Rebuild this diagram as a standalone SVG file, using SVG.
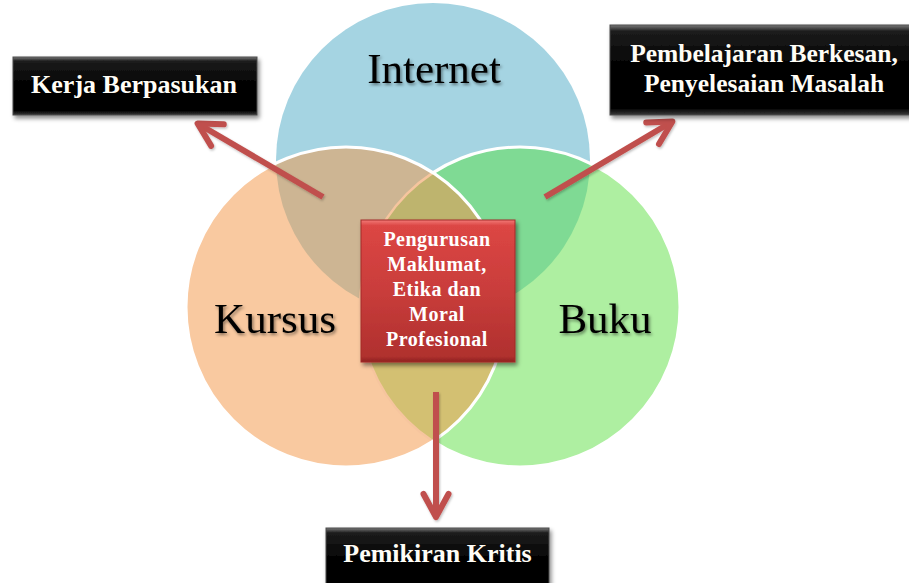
<svg xmlns="http://www.w3.org/2000/svg" width="909" height="583" viewBox="0 0 909 583">
  <defs>
    <style>
      .big { font-family: "Liberation Serif", "Times New Roman", serif; font-size: 43px; fill: #000; text-anchor: middle; }
      .lbl { font-family: "Liberation Serif", "Times New Roman", serif; font-weight: bold; font-size: 26px; fill: #FFFDF6; text-anchor: middle; }
      .ctr { font-family: "Liberation Serif", "Times New Roman", serif; font-weight: bold; font-size: 20px; fill: #FFFFFF; text-anchor: middle; letter-spacing: 0.5px; }
      .arrow { fill: none; stroke: #C0504D; stroke-width: 6; marker-end: url(#head); }
      .ring { fill: none; stroke: #FFFFFF; stroke-width: 3; }
    </style>
    <marker id="head" markerUnits="userSpaceOnUse" viewBox="-32 -20 40 40" refX="0" refY="0" markerWidth="40" markerHeight="40" orient="auto">
      <path d="M-23,-12.5 L0,0 L-23,12.5" fill="none" stroke="#C0504D" stroke-width="6" stroke-linejoin="round" stroke-linecap="round"/>
    </marker>
    <clipPath id="cInternet"><circle cx="433" cy="160" r="157"/></clipPath>
    <clipPath id="cBuku"><circle cx="520" cy="307" r="160"/></clipPath>
    <clipPath id="cKursus"><circle cx="346" cy="307" r="160"/></clipPath>
    <linearGradient id="gRed" x1="0" y1="0" x2="0" y2="1">
      <stop offset="0" stop-color="#F27A78"/>
      <stop offset="0.04" stop-color="#DC4644"/>
      <stop offset="0.5" stop-color="#C93D3B"/>
      <stop offset="0.96" stop-color="#B0302E"/>
      <stop offset="1" stop-color="#8E2220"/>
    </linearGradient>
    <linearGradient id="gBlack" x1="0" y1="0" x2="0" y2="1">
      <stop offset="0" stop-color="#7A7A7A"/>
      <stop offset="0.07" stop-color="#1C1C1C"/>
      <stop offset="0.5" stop-color="#000000"/>
      <stop offset="0.93" stop-color="#050505"/>
      <stop offset="1" stop-color="#3A3A3A"/>
    </linearGradient>
    <filter id="boxShadow" x="-10%" y="-10%" width="125%" height="130%">
      <feDropShadow dx="2" dy="3" stdDeviation="2" flood-color="#000" flood-opacity="0.45"/>
    </filter>
    <filter id="txtShadow" x="-10%" y="-20%" width="125%" height="150%">
      <feDropShadow dx="1.5" dy="2" stdDeviation="1.5" flood-color="#000" flood-opacity="0.45"/>
    </filter>
    <filter id="arrShadow" x="-20%" y="-20%" width="140%" height="140%">
      <feDropShadow dx="1" dy="1.5" stdDeviation="1" flood-color="#000" flood-opacity="0.25"/>
    </filter>
  </defs>

  <rect width="909" height="583" fill="#FFFFFF"/>

  <g id="venn">
    <circle id="internet-circle" cx="433" cy="160" r="157" fill="#A5D4E2"/>
    <circle id="buku-circle" cx="520" cy="307" r="160" fill="#AEEFA1"/>
    <circle cx="520" cy="307" r="160" fill="#7FDA94" clip-path="url(#cInternet)"/>
    <circle cx="520" cy="307" r="160" class="ring"/>
    <circle id="kursus-circle" cx="346" cy="307" r="160" fill="#F9C9A0"/>
    <circle cx="346" cy="307" r="160" fill="#CDB593" clip-path="url(#cInternet)"/>
    <circle cx="346" cy="307" r="160" fill="#D3C072" clip-path="url(#cBuku)"/>
    <g clip-path="url(#cInternet)">
      <circle cx="346" cy="307" r="160" fill="#BEB46E" clip-path="url(#cBuku)"/>
    </g>
    <circle cx="520" cy="307" r="160" fill="none" stroke="#F6C59E" stroke-width="2.5" clip-path="url(#cKursus)"/>
    <circle cx="346" cy="307" r="160" class="ring"/>
  </g>

  <g id="node-internet"><text class="big" x="434" y="83" filter="url(#txtShadow)">Internet</text></g>
  <g id="node-kursus"><text class="big" x="275" y="333" filter="url(#txtShadow)">Kursus</text></g>
  <g id="node-buku"><text class="big" x="605" y="333" filter="url(#txtShadow)">Buku</text></g>

  <g id="connectors" filter="url(#arrShadow)">
    <line class="arrow" x1="323" y1="197" x2="197.6" y2="123.5"/>
    <line class="arrow" x1="545" y1="197" x2="672.4" y2="121.5"/>
    <line class="arrow" x1="436" y1="392" x2="436" y2="517"/>
  </g>

  <g id="node-center">
    <rect x="361" y="220" width="154" height="142" fill="url(#gRed)" stroke="#A32A28" stroke-width="1" filter="url(#boxShadow)"/>
    <text class="ctr" x="437" y="246">Pengurusan</text>
    <text class="ctr" x="437" y="271">Maklumat,</text>
    <text class="ctr" x="437" y="296">Etika dan</text>
    <text class="ctr" x="437" y="321">Moral</text>
    <text class="ctr" x="437" y="346">Profesional</text>
  </g>

  <g id="node-kerja">
    <rect x="13" y="57" width="244" height="58" fill="url(#gBlack)" stroke="#4A4A4A" stroke-width="1" filter="url(#boxShadow)"/>
    <text class="lbl" x="134" y="93">Kerja Berpasukan</text>
  </g>

  <g id="node-pembelajaran">
    <rect x="610" y="25" width="306" height="90" fill="url(#gBlack)" stroke="#4A4A4A" stroke-width="1" filter="url(#boxShadow)"/>
    <text class="lbl" x="764" y="62" style="font-size:25.5px">Pembelajaran Berkesan,</text>
    <text class="lbl" x="764" y="92" style="font-size:25.5px">Penyelesaian Masalah</text>
  </g>

  <g id="node-pemikiran">
    <rect x="326" y="528" width="223" height="70" fill="url(#gBlack)" stroke="#4A4A4A" stroke-width="1" filter="url(#boxShadow)"/>
    <text class="lbl" x="437.5" y="562">Pemikiran Kritis</text>
  </g>
</svg>
